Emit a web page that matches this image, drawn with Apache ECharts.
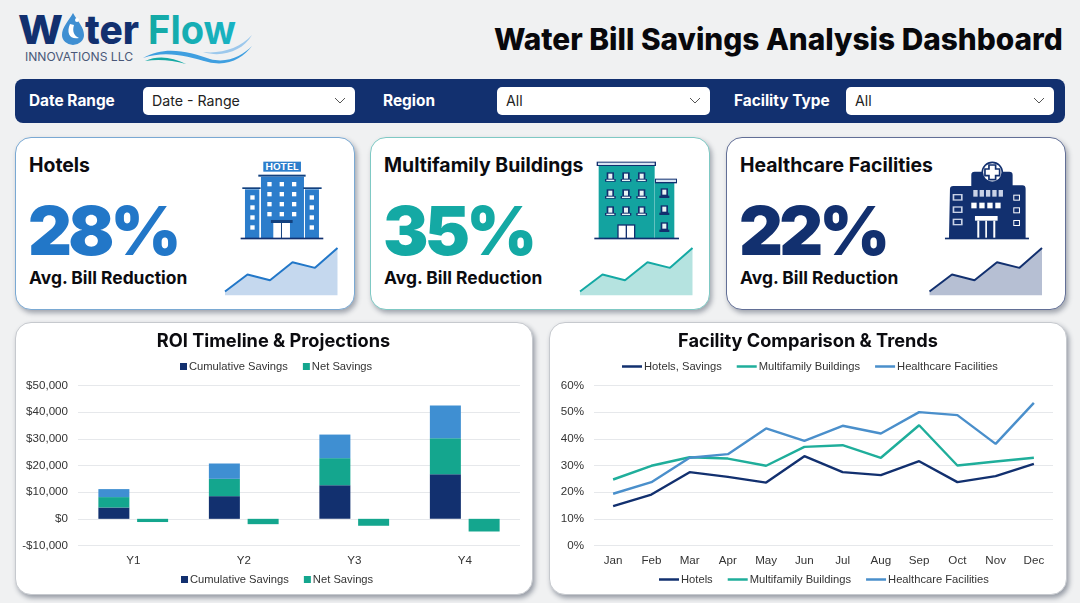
<!DOCTYPE html>
<html>
<head>
<meta charset="utf-8">
<title>Water Bill Savings Analysis Dashboard</title>
<script src="https://cdn.jsdelivr.net/npm/echarts@6/dist/echarts.min.js"></script>
<style>
html,body{margin:0;padding:0;width:1080px;height:603px;overflow:hidden;background:#f0f1f2;font-family:Inter,"Open Sans",sans-serif;color:#0b0b0f}
.abs{position:absolute}
#logo{left:0;top:0}
#title{left:494px;top:20px;width:575px;font-size:29.8px;font-weight:800;line-height:38px;white-space:nowrap;color:#08080c}
#bar{left:15px;top:79px;width:1050px;height:44px;background:#12306f;border-radius:8px}
.lab{top:92px;color:#fff;font-weight:700;font-size:15.4px;line-height:18px}
.sel{top:87px;height:28px;background:#fff;border-radius:5px;font-size:14.2px;line-height:28px;color:#222;text-indent:9px}
.sel svg{position:absolute;right:9px;top:10px}
.card{top:137px;width:340px;height:173px;background:#fff;border-radius:16px;box-shadow:2px 3px 5px rgba(40,50,70,.4);box-sizing:border-box;border:1px solid}
.name{top:154px;font-size:19.4px;font-weight:700;line-height:22px;white-space:nowrap}
.kpi{top:190px;font-size:68px;font-weight:900;line-height:80px;letter-spacing:-3.8px}
.sub{top:268px;font-size:17.4px;font-weight:700;line-height:20px;white-space:nowrap}
.panel{top:322px;height:273px;background:#fff;border-radius:16px;box-shadow:2px 3px 5px rgba(40,50,70,.45);box-sizing:border-box;border:1px solid #c6c9ce}
#chart{left:0;top:0;width:1080px;height:603px}
</style>
</head>
<body>
<svg id="logo" class="abs" width="270" height="75" viewBox="0 0 270 75">
  <defs><linearGradient id="fl" x1="0" x2="1"><stop offset="0" stop-color="#14a9a4"/><stop offset="1" stop-color="#18b3c4"/></linearGradient></defs>
  <text x="18" y="44" font-family="Inter" font-weight="800" font-size="40" fill="#12306f" textLength="45" lengthAdjust="spacingAndGlyphs">W</text>
  <path d="M73 13 C78 22 84 27 84 35 A11 10 0 0 1 62 35 C62 27 68 22 73 13Z" fill="#3f8fd2"/>
  <path d="M70 24 C66 33 70 40 79 38 C74 36 72 31 74 25Z" fill="#fff"/>
  <circle cx="77" cy="20" r="2" fill="#fff"/>
  <text x="85" y="44" font-family="Inter" font-weight="800" font-size="40" fill="#12306f" textLength="54" lengthAdjust="spacingAndGlyphs">ter</text>
  <text x="148" y="44" font-family="Inter" font-weight="700" font-size="40" fill="url(#fl)" textLength="88" lengthAdjust="spacingAndGlyphs">Flow</text>
  <text x="25" y="61" font-family="Inter" font-size="12" fill="#4a5878" textLength="108" lengthAdjust="spacingAndGlyphs">INNOVATIONS LLC</text>
  <path d="M143 58 C165 45 190 52 210 59 C228 64 243 55 252 46 C243 58 228 67 208 62 C188 56 165 50 143 58Z" fill="#3f9fe0"/>
  <path d="M203 52 C222 54 240 48 252 35 C243 51 222 58 203 52Z" fill="#9cc8ec"/>
  <path d="M145 61 C158 55 172 57 186 64 C172 60 158 59 145 61Z" fill="#14a9a4"/>
</svg>
<div id="title" class="abs">Water Bill Savings Analysis Dashboard</div>

<div id="bar" class="abs"></div>
<div class="abs lab" style="left:29px">Date Range</div>
<div class="abs sel" style="left:143px;width:212px">Date - Range<svg width="12" height="8"><path d="M1 1l5 5 5-5" fill="none" stroke="#555"/></svg></div>
<div class="abs lab" style="left:383px">Region</div>
<div class="abs sel" style="left:497px;width:213px">All<svg width="12" height="8"><path d="M1 1l5 5 5-5" fill="none" stroke="#555"/></svg></div>
<div class="abs lab" style="left:734px">Facility Type</div>
<div class="abs sel" style="left:846px;width:208px">All<svg width="12" height="8"><path d="M1 1l5 5 5-5" fill="none" stroke="#555"/></svg></div>

<div class="abs card" style="left:15px;border-color:#7aa9d3"></div>
<div class="abs card" style="left:370px;border-color:#7fc9c4"></div>
<div class="abs card" style="left:726px;border-color:#626f96"></div>

<div class="abs name" style="left:29px">Hotels</div>
<div class="abs name" style="left:384px">Multifamily Buildings</div>
<div class="abs name" style="left:740px">Healthcare Facilities</div>
<div class="abs kpi" style="left:28px;color:#2277c8">28%</div>
<div class="abs kpi" style="left:383px;color:#14a9a4">35%</div>
<div class="abs kpi" style="left:739px;color:#12306f">22%</div>
<div class="abs sub" style="left:29px">Avg. Bill Reduction</div>
<div class="abs sub" style="left:384px">Avg. Bill Reduction</div>
<div class="abs sub" style="left:740px">Avg. Bill Reduction</div>

<svg id="icons" class="abs" style="left:0;top:0" width="1080" height="320" viewBox="0 0 1080 320"></svg>

<div class="abs panel" style="left:15px;width:518px"></div>
<div class="abs panel" style="left:549px;width:518px"></div>
<div id="chart" class="abs"></div>

<script>
// 柱状图数据
var years = ['Y1','Y2','Y3','Y4'];
var cumulativeSavings = [4250,8500,12600,16750];
var netSavings = [3900,6500,10150,13500];
var projectedSavings = [3000,5750,8850,12250];
var netLoss = [-1200,-2000,-2600,-4750];

// 折线图数据
var months = ['Jan','Feb','Mar','Apr','May','Jun','Jul','Aug','Sep','Oct','Nov','Dec'];
var hotels = [14.75,19.1,27.5,25.75,23.6,33.5,27.5,26.4,31.6,23.75,26,30.6];
var multifamily = [24.75,29.9,33.1,32.6,29.9,37,37.6,32.9,45.1,30,31.5,32.9];
var healthcare = [19.4,23.75,32.9,34.25,43.9,39.25,44.9,42,50,48.9,38.1,53.5];

// 卡片小走势图
var sparkSteps = ['1','2','3','4','5','6'];
var sparkValues = [8,44,32,70,58,100];

var NAVY='#12306f', TEAL='#14a68e', BLUE='#3f8fd2', LINE_TEAL='#1fae9b', LINE_BLUE='#4a8fcb';
var GRID='#e6e8eb', TXT='#333';
var FONT='"Liberation Sans",Arial,sans-serif';

// 图标
function r(x,y,w,h,c){return '<rect x="'+x+'" y="'+y+'" width="'+w+'" height="'+h+'" fill="'+c+'"/>'}
function drawIcons(){
  var s='', i, j;
  // hotel
  s+='<g transform="translate(0,130) scale(.3333)">';
  s+=r(790,95,113,30,'#2c7dcb')+'<text x="797" y="119" fill="#fff" font-family="Inter" font-weight="700" font-size="25" textLength="99" lengthAdjust="spacingAndGlyphs">HOTEL</text>';
  s+=r(775,134,142,6,'#12417f')+r(783,140,129,185,'#2c7dcb')+r(735,178,43,147,'#2c7dcb')+r(915,178,42,147,'#2c7dcb');
  s+=r(727,172,55,5,'#12417f')+r(910,172,55,5,'#12417f');
  for(i=0;i<3;i++)for(j=0;j<4;j++)s+=r(802+i*37,156+j*30,13,13,'#fff');
  for(j=0;j<4;j++){s+=r(751,196+j*30,13,13,'#fff');s+=r(929,196+j*30,13,13,'#fff')}
  s+=r(820,278,50,47,'#fff')+r(843,278,3,47,'#12417f')+r(813,270,65,9,'#12417f')+r(722,323,248,5,'#12306f');
  s+='</g>';
  // apartment
  s+='<g transform="translate(560,130) scale(.3333)">';
  s+=r(116,105,168,220,'#13a3a0')+r(110,95,178,13,'#12306f')+r(114,98,170,7,'#d8e4f2');
  s+=r(285,158,58,167,'#13a3a0')+r(285,146,66,14,'#12306f')+r(288,149,60,7,'#d8e4f2');
  for(i=0;i<3;i++)for(j=0;j<3;j++){s+=r(140+i*47,127+j*51,22,24,'#12306f')+r(145+i*47,131+j*51,12,15,'#e8f4f4')+r(135+i*47,147+j*51,32,8,'#12306f')+r(139+i*47,149+j*51,24,4,'#e8f4f4')}
  for(j=0;j<3;j++){s+=r(302,175+j*51,22,24,'#12306f')+r(307,179+j*51,12,15,'#e8f4f4')+r(298,197+j*51,30,7,'#12306f')}
  s+=r(172,283,54,42,'#12306f')+r(176,287,21,38,'#fff')+r(201,287,21,38,'#fff')+r(103,323,254,5,'#12306f');
  s+='</g>';
  // hospital
  s+='<g transform="translate(560,130) scale(.3333)">';
  s+='<path d="M1170 178a10 10 0 0 1 10-10H1234V135a10 10 0 0 1 10-10h104a10 10 0 0 1 10 10V166h29a10 10 0 0 1 10 10V325H1167Z" fill="#12306f"/>';
  s+='<circle cx="1297" cy="127" r="30" fill="#fff" stroke="#12306f" stroke-width="5"/><path d="M1287 105h20v12h12v20h-12v12h-20v-12h-12v-20h12Z" fill="#fff" stroke="#12306f" stroke-width="5"/>';
  for(i=0;i<5;i++)s+=r(1240+i*19,180,13,20,'#c9d2e6');
  for(i=0;i<4;i++)s+=r(1234+i*24,218,16,17,'#fff');
  for(j=0;j<3;j++){s+=r(1360,194+j*38,20,18,'#fff');s+=r(1363,197+j*38,14,12,'#12306f');s+=r(1178,192+j*37,30,20,'#c9d2e6');s+=r(1183,196+j*37,20,12,'#12306f')}
  s+=r(1245,258,68,14,'#fff')+r(1252,272,6,53,'#fff')+r(1276,272,5,53,'#fff')+r(1300,272,6,53,'#fff')+r(1155,323,252,5,'#12306f');
  s+='</g>';
  document.getElementById('icons').innerHTML=s;
}
drawIcons();

function sparkGrid(left){return {left:left,width:112.5,top:248,height:47.3}}
function sparkSeries(i,color,fill){
  return {name:'trend'+i,type:'line',xAxisIndex:i+2,yAxisIndex:i+2,data:sparkValues,symbol:'none',
    lineStyle:{color:color,width:2},itemStyle:{color:color},areaStyle:{color:fill,opacity:1},silent:true};
}
function sparkX(i){return {type:'category',gridIndex:i+2,data:sparkSteps,boundaryGap:false,show:false}}
function sparkY(i){return {type:'value',gridIndex:i+2,min:0,max:100,show:false}}

var chart = echarts.init(document.getElementById('chart'),null,{renderer:'canvas'});
var labelStyle = {color:TXT,fontSize:11.6,fontFamily:FONT};
var legendText = {color:TXT,fontSize:11.2,fontFamily:FONT,padding:[0,0,0,-3]};
var titleText = {fontFamily:'Inter',fontWeight:700,fontSize:18.2,color:'#0b0b0f'};
var option = {
  animation:false,
  backgroundColor:'transparent',
  title:[
    {text:'ROI Timeline & Projections',left:273.5,top:333,padding:0,textAlign:'center',textStyle:titleText},
    {text:'Facility Comparison & Trends',left:808,top:333,padding:0,textAlign:'center',textStyle:titleText}
  ],
  legend:[
    {left:180,top:361,padding:0,data:['Cumulative Savings','Net Savings'],icon:'rect',itemWidth:7,itemHeight:7,itemGap:15,textStyle:legendText,selectedMode:false},
    {left:181,top:574,padding:0,data:['Cumulative Savings','Net Savings'],icon:'rect',itemWidth:7,itemHeight:7,itemGap:15,textStyle:legendText,selectedMode:false},
    {left:622,top:361,padding:0,data:['Hotels','Multifamily Buildings','Healthcare Facilities'],icon:'rect',itemWidth:20,itemHeight:2.5,itemGap:15,
      formatter:function(n){return n==='Hotels'?'Hotels, Savings':n},textStyle:legendText,selectedMode:false},
    {left:659,top:574,padding:0,data:['Hotels','Multifamily Buildings','Healthcare Facilities'],icon:'rect',itemWidth:20,itemHeight:2.5,itemGap:15,textStyle:legendText,selectedMode:false}
  ],
  grid:[
    {left:78,width:442,top:385.5,height:160},
    {left:594,width:459,top:385.5,height:160},
    sparkGrid(225),sparkGrid(580),sparkGrid(929.5)
  ],
  xAxis:[
    {type:'category',gridIndex:0,data:years,axisLine:{show:false,onZero:false},axisTick:{show:false},axisLabel:Object.assign({margin:9},labelStyle)},
    {type:'category',gridIndex:1,data:months,axisLine:{show:false},axisTick:{show:false},axisLabel:Object.assign({margin:9,interval:0},labelStyle)},
    sparkX(0),sparkX(1),sparkX(2)
  ],
  yAxis:[
    {type:'value',gridIndex:0,min:-10000,max:50000,interval:10000,axisLine:{show:false},axisTick:{show:false},splitLine:{lineStyle:{color:GRID}},
      axisLabel:Object.assign({margin:10,formatter:function(v){return (v<0?'-$':'$')+Math.abs(v).toLocaleString('en-US')}},labelStyle)},
    {type:'value',gridIndex:1,min:0,max:60,interval:10,axisLine:{show:false},axisTick:{show:false},splitLine:{lineStyle:{color:GRID}},
      axisLabel:Object.assign({margin:10,formatter:'{value}%'},labelStyle)},
    sparkY(0),sparkY(1),sparkY(2)
  ],
  series:[
    {name:'Cumulative Savings',type:'bar',stack:'pos',barWidth:31,barGap:'25%',data:cumulativeSavings,itemStyle:{color:NAVY}},
    {name:'Net Savings',type:'bar',stack:'pos',barWidth:31,data:netSavings,itemStyle:{color:TEAL}},
    {name:'Projected Savings',type:'bar',stack:'pos',barWidth:31,data:projectedSavings,itemStyle:{color:BLUE}},
    {name:'Net Savings',type:'bar',stack:'neg',barWidth:31,data:netLoss,itemStyle:{color:TEAL}},
    {name:'Hotels',type:'line',xAxisIndex:1,yAxisIndex:1,data:hotels,symbol:'none',lineStyle:{color:NAVY,width:2.4},itemStyle:{color:NAVY}},
    {name:'Multifamily Buildings',type:'line',xAxisIndex:1,yAxisIndex:1,data:multifamily,symbol:'none',lineStyle:{color:LINE_TEAL,width:2.4},itemStyle:{color:LINE_TEAL}},
    {name:'Healthcare Facilities',type:'line',xAxisIndex:1,yAxisIndex:1,data:healthcare,symbol:'none',lineStyle:{color:LINE_BLUE,width:2.4},itemStyle:{color:LINE_BLUE}},
    sparkSeries(0,'#2277c8','#c5d8ee'),
    sparkSeries(1,'#14a9a4','#b5e3e0'),
    sparkSeries(2,'#12306f','#b6bfd3')
  ]
};
chart.setOption(option);
</script>
</body>
</html>
